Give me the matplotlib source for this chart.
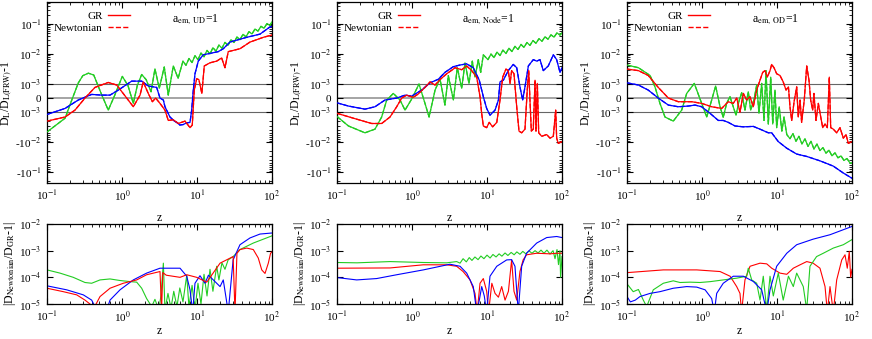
import numpy as np
import matplotlib.pyplot as plt
from matplotlib.lines import Line2D
from matplotlib.ticker import FixedLocator, LogLocator, NullFormatter

# --- Top row: D_L/D_L(FRW) - 1 ---
ud_green_z = [0.1, 0.174, 0.214, 0.261, 0.3, 0.356, 0.42, 0.53, 0.656, 0.8, 1.01, 1.2, 1.415, 1.6, 1.83, 2.1, 2.44,
              2.75, 3.14, 3.66, 4.14, 4.83, 5.6,
              6.5, 7.13, 7.82, 8.58, 9.4, 10.3, 11.3, 12.4, 13.6, 14.9, 16.3, 17.9, 19.6, 21.5, 23.6, 25.9, 28.4,
              31.1, 34.1, 37.4, 41.0, 45.0, 49.3, 54.1, 59.3, 65.0, 71.3, 78.2, 85.7, 94.0, 100]
ud_green_v = [-4.6e-3, -1.6e-3, -0.14e-3, 1.08e-3, 1.9e-3, 2.3e-3, 2.0e-3, 0.3e-3, -0.86e-3, 0.2e-3, 1.8e-3,
              0.9e-3, -0.38e-3, 0.9e-3, 2.08e-3, 1.4e-3, 0.45e-3,
              3.2e-3, 0.7e-3, 3.7e-3, 0.21e-3, 4.0e-3, 1.55e-3,
              5.8e-3, 4.2e-3, 7.1e-3, 5.2e-3, 8.8e-3, 6.5e-3, 1.08e-2, 8.1e-3, 1.32e-2, 1.01e-2, 1.62e-2, 1.25e-2,
              1.99e-2, 1.56e-2, 2.44e-2, 1.94e-2, 3.0e-2, 2.42e-2, 3.68e-2, 3.0e-2, 4.52e-2, 3.74e-2, 5.55e-2,
              4.66e-2, 6.81e-2, 5.79e-2, 8.36e-2, 7.21e-2, 0.103, 8.97e-2, 0.118]
ud_blue_z = [0.1, 0.174, 0.261, 0.394, 0.536, 0.692, 0.893, 1.346, 1.83, 2.24, 2.9, 3.21, 3.56, 3.74, 4.36, 5.0,
             5.36, 5.9, 6.56, 7.2, 8.07, 8.49, 8.93, 9.4, 10.4, 12.1, 19.2, 22.4, 27.5, 46.0, 69.2, 94.0, 100]
ud_blue_v = [-1.2e-3, -0.74e-3, -0.14e-3, 0.26e-3, 0.21e-3, 0.21e-3, 0.57e-3, 1.25e-3, 1.25e-3, 0.86e-3, 0.76e-3,
             0.0, -0.14e-3, -0.62e-3, -1.46e-3, -2.0e-3, -2.2e-3, -2.7e-3, -2.6e-3, -2.3e-3, -2.2e-3, -0.86e-3,
             0.57e-3, 2.2e-3, 5.8e-3, 9.4e-3, 1.2e-2, 1.5e-2, 2.5e-2, 3.6e-2, 4.6e-2, 8.0e-2, 8.3e-2]
ud_red_z = [0.1, 0.174, 0.236, 0.321, 0.436, 0.656, 0.85, 1.156, 1.415, 1.74, 1.92, 2.24, 2.54, 2.81, 3.21, 3.74,
            4.14, 4.83, 5.63, 6.92, 8.07, 8.65, 9.2, 9.9, 10.6, 11.6, 12.5, 14.9, 18.3, 21.3, 23.6, 26.1, 37.4,
            50.9, 76.6, 100]
ud_red_v = [-2.0e-3, -1.46e-3, -0.86e-3, 0.0, 0.76e-3, 1.13e-3, 0.93e-3, 0.0, -0.62e-3, 0.21e-3, 1.18e-3, 0.33e-3,
            -0.26e-3, 0.0, -0.38e-3, -0.86e-3, -1.9e-3, -1.8e-3, -2.4e-3, -2.0e-3, -3.3e-3, -2.7e-3, 0.57e-3,
            1.5e-3, 1.4e-3, 0.33e-3, 4.0e-3, 5.1e-3, 5.8e-3, 7.4e-3, 3.5e-3, 1.2e-2, 1.5e-2, 2.5e-2, 3.6e-2, 4.3e-2]

node_green_z = [0.1, 0.142, 0.236, 0.321, 0.394, 0.46, 0.564, 0.692, 0.807, 0.99, 1.24, 1.49, 1.69, 2.03, 2.36,
                2.75, 3.05, 3.56, 4.02, 4.6, 5.09, 5.75, 6.37, 6.92, 7.66, 8.24, 8.93,
                10.3, 11.3, 12.4, 13.6, 14.9, 16.3, 17.9, 19.6, 21.5, 23.6, 25.9, 28.4, 31.1, 34.1, 37.4, 41.0,
                45.0, 49.3, 54.1, 59.3, 65.0, 71.3, 78.2, 85.7, 94.0, 100]
node_green_v = [-1.4e-3, -2.9e-3, -4.9e-3, -3.7e-3, -1.46e-3, -0.14e-3, 0.33e-3, -0.14e-3, -0.86e-3, -0.07e-3,
                1.0e-3, -0.38e-3, -1.46e-3, 0.57e-3, 1.5e-3, -0.5e-3, 1.9e-3, -0.14e-3, 3.5e-3, 0.7e-3, 5.1e-3,
                1.05e-3, 5.8e-3, 1.7e-3, 6.5e-3, 2.45e-3, 9.4e-3,
                6.5e-3, 1.0e-2, 7.6e-3, 1.16e-2, 8.9e-3, 1.35e-2, 1.04e-2, 1.56e-2, 1.21e-2, 1.8e-2, 1.42e-2,
                2.09e-2, 1.66e-2, 2.42e-2, 1.94e-2, 2.81e-2, 2.27e-2, 3.24e-2, 2.66e-2, 3.76e-2, 3.11e-2, 4.36e-2,
                3.64e-2, 5.05e-2, 4.26e-2, 5.1e-2]
node_blue_z = [0.1, 0.142, 0.236, 0.321, 0.436, 0.625, 0.807, 0.99, 1.346, 1.74, 2.24, 2.75, 3.56, 4.36, 5.36,
               6.56, 7.89, 8.93, 9.9, 10.96, 12.8, 14.2, 14.9, 16.5, 19.2, 22.4, 24.9, 27.5, 29.9, 32.1, 35.6,
               41.4, 46.0, 50.9, 56.3, 65.6, 76.6, 84.9, 94.0, 100]
node_blue_v = [-0.34e-3, -0.57e-3, -0.79e-3, -0.62e-3, -0.14e-3, 0.0, 0.21e-3, 0.14e-3, 0.57e-3, 1.1e-3, 1.44e-3,
               2.45e-3, 3.8e-3, 4.3e-3, 4.7e-3, 3.5e-3, 1.34e-3, 0.1e-3, -0.74e-3, -1.27e-3, -0.86e-3, -0.14e-3,
               1.18e-3, 1.34e-3, 2.8e-3, 4.5e-3, 3.5e-3, 0.8e-3, -0.14e-3, 0.8e-3, 4.0e-3, 6.5e-3, 5.8e-3,
               6.5e-3, 2.8e-3, 4.0e-3, 9.4e-3, 6.5e-3, 2.45e-3, 3.5e-3]
node_red_z = [0.1, 0.174, 0.29, 0.394, 0.509, 0.625, 0.729, 0.85, 1.04, 1.21, 1.49, 1.74, 2.03, 2.36, 2.9, 3.56,
              3.74, 4.6, 5.36, 6.25, 7.29, 8.07, 8.49, 8.93, 9.9, 10.7, 11.9, 13.5, 14.9, 16.2, 17.9, 19.2, 20.3,
              21.3, 22.9, 24.9, 26.7, 29.0, 32.1, 34.4, 36.0, 37.4, 39.0, 41.4, 43.7, 45.0, 46.9, 48.9, 53.6,
              62.5, 69.2, 76.6, 82.4, 84.9, 89.3, 100]
node_red_v = [-1.1e-3, -1.66e-3, -2.4e-3, -2.4e-3, -1.46e-3, -0.62e-3, 0.0, 0.21e-3, 0.05e-3, 0.29e-3, 0.76e-3,
              1.18e-3, 0.93e-3, 1.4e-3, 2.2e-3, 3.15e-3, 3.5e-3, 3.0e-3, 4.0e-3, 2.8e-3, 1.7e-3, 0.1e-3, -1.1e-3,
              -2.9e-3, -3.3e-3, -2.2e-3, -3.1e-3, -2.2e-3, -0.14e-3, 1.7e-3, 3.15e-3, 2.8e-3, 1.05e-3, 2.8e-3,
              2.2e-3, -0.62e-3, -4.3e-3, -4.9e-3, -3.7e-3, 0.57e-3, 2.8e-3, -0.14e-3, -4.3e-3, -3.7e-3, 1.34e-3,
              -4.3e-3, 1.05e-3, -4.9e-3, -6.4e-3, -5.6e-3, -7.4e-3, -6.4e-3, -0.86e-3, -7.4e-3, -1.1e-2, -9.6e-3]

od_green_z = [0.1, 0.142, 0.203, 0.236, 0.275, 0.321, 0.414, 0.536, 0.625, 0.789, 0.99, 1.156, 1.346, 1.52, 1.74,
              1.92, 2.13, 2.36, 2.61, 2.84, 3.14, 3.38, 3.74, 4.14, 4.46, 4.93, 5.36, 5.75, 6.25, 6.71, 7.13, 7.66,
              8.24, 8.77, 9.4, 9.9, 10.7, 11.6, 12.4, 13.5,
              14.9, 16.3, 17.9, 19.6, 21.5, 23.6, 25.9, 28.4, 31.1, 34.1, 37.4, 41.0, 45.0, 49.3, 54.1, 59.3,
              65.0, 71.3, 78.2, 85.7, 94.0, 100]
od_green_v = [4.3e-3, 3.5e-3, 1.93e-3, 0.8e-3, -0.38e-3, -1.46e-3, -2.0e-3, -0.86e-3, 0.33e-3, 1.05e-3, -0.38e-3,
              -1.46e-3, -0.14e-3, 0.86e-3, -0.62e-3, -1.5e-3, -0.38e-3, 0.1e-3, -0.62e-3, -1.27e-3, -0.14e-3,
              0.38e-3, -0.86e-3, 0.45e-3, -0.86e-3, -0.14e-3, 0.93e-3, -1.1e-3, 1.05e-3, -1.9e-3, 2.8e-3, -2.5e-3,
              1.7e-3, -2.5e-3, 0.57e-3, -3.3e-3, -0.62e-3, -4.3e-3, -1.46e-3, -5.6e-3,
              -7.7e-3, -5.2e-3, -9.4e-3, -6.4e-3, -1.15e-2, -7.8e-3, -1.39e-2, -9.4e-3, -1.7e-2, -1.16e-2,
              -1.91e-2, -1.53e-2, -2.33e-2, -1.86e-2, -2.86e-2, -2.28e-2, -3.33e-2, -2.88e-2, -4.08e-2,
              -3.52e-2, -4.96e-2, -5.0e-2]
od_blue_z = [0.1, 0.142, 0.192, 0.261, 0.356, 0.483, 0.656, 0.807, 0.99, 1.28, 1.65, 1.92, 2.24, 2.75, 3.56, 4.83,
             5.93, 7.66, 8.49, 10.4, 13.5, 18.3, 24.9, 37.4, 56.3, 76.6, 100]
od_blue_v = [1.1e-3, 0.93e-3, 0.57e-3, 0.0, -0.5e-3, -0.62e-3, -0.57e-3, -0.5e-3, -0.62e-3, -1.1e-3, -1.9e-3,
             -1.9e-3, -2.2e-3, -2.9e-3, -3.1e-3, -3.0e-3, -3.7e-3, -4.9e-3, -4.9e-3, -9.6e-3, -1.6e-2, -2.5e-2,
             -3.0e-2, -4.2e-2, -6.3e-2, -0.107, -0.16]
od_red_z = [0.1, 0.142, 0.192, 0.261, 0.356, 0.483, 0.729, 0.99, 1.346, 1.83, 2.24, 2.61, 2.9, 3.21, 3.56, 3.94,
            4.36, 4.83, 5.36, 5.93, 6.45, 6.92, 7.43, 8.07, 8.49, 9.12, 9.9, 10.96, 12.1, 13.2, 14.2, 14.9, 15.7,
            16.9, 18.3, 19.2, 20.3, 21.3, 23.1, 24.9, 26.7, 28.1, 29.9, 31.1, 33.1, 35.6, 38.3, 40.7, 43.7, 46.9,
            49.8, 52.0, 56.3, 62.5, 69.2, 76.6, 83.2, 89.3, 100]
od_red_v = [3.15e-3, 2.8e-3, 1.93e-3, 0.76e-3, 0.0, -0.26e-3, -0.26e-3, -0.38e-3, -0.62e-3, -0.74e-3, -0.26e-3,
            -0.38e-3, 0.0, -1.0e-3, 0.33e-3, -0.14e-3, 0.1e-3, -0.62e-3, 0.57e-3, 1.34e-3, 2.45e-3, 2.8e-3, 1.7e-3,
            2.8e-3, 4.5e-3, 3.5e-3, 2.2e-3, 1.93e-3, 1.18e-3, 0.57e-3, 0.8e-3, -0.62e-3, -1.9e-3, -0.26e-3,
            0.8e-3, -1.46e-3, -0.14e-3, -2.2e-3, -0.14e-3, 4.0e-3, 1.34e-3, -0.14e-3, -0.86e-3, 0.33e-3, -1.9e-3,
            -0.38e-3, -1.46e-3, -3.3e-3, -2.5e-3, -3.3e-3, 1.7e-3, -3.3e-3, -3.7e-3, -4.9e-3, -3.3e-3, -7.4e-3,
            -5.6e-3, -1.1e-2, -9.6e-3]

# --- Bottom row: |D_Newtonian/D_GR - 1| ---
b_ud_green_z = [0.1, 0.149, 0.224, 0.321, 0.394, 0.509, 0.692, 0.941, 1.29, 1.57, 1.83, 2.13, 2.49, 2.75, 3.1, 3.3,
                3.56, 3.74, 4.1, 4.5, 4.9, 5.4, 5.9, 6.5, 7.3, 7.8, 8.6, 9.4, 10.3, 11.3, 12.4, 13.6, 14.9, 16.3,
                18.3, 19.6, 21.5, 23.6, 26.0, 30.3, 37.4, 56.3, 100]
b_ud_green_v = [1.9e-4, 1.44e-4, 1.0e-4, 6.4e-5, 6.0e-5, 8.0e-5, 8.7e-5, 7.6e-5, 6.9e-5, 6.6e-5, 3.9e-5, 1.6e-5,
                8e-6, 1.5e-5, 6e-6, 2.0e-5, 3.4e-4, 6e-6, 2.5e-5, 7e-6, 3e-5, 8e-6, 4e-5, 1.2e-5, 1.2e-4, 8e-6,
                5e-5, 6e-6, 6e-5, 1e-5, 1.3e-4, 2e-5, 2e-4, 3e-5, 2.6e-4, 8e-5, 3.5e-4, 2e-4, 4.5e-4, 6e-4,
                1.1e-3, 1.93e-3, 3.6e-3]
b_ud_blue_z = [0.1, 0.183, 0.305, 0.394, 0.46, 0.509, 0.625, 0.692, 0.941, 1.415, 2.13, 3.21, 5.94, 7.3, 8.07,
               8.77, 9.4, 10.96, 12.8, 14.2, 16.5, 20.3, 22.4, 26.1, 30.3, 37.4, 50.9, 69.2, 100]
b_ud_blue_v = [4.8e-5, 3.4e-5, 2.2e-5, 1.4e-5, 6e-6, 4e-6, 6e-6, 1.4e-5, 3.4e-5, 8e-5, 1.44e-4, 2.2e-4, 2.2e-4,
               1.1e-4, 3.4e-5, 5e-6, 6e-5, 1.15e-4, 6e-5, 1.2e-4, 8e-5, 4.5e-5, 8e-5, 5e-6, 4.5e-4, 1.67e-3,
               3e-3, 4.2e-3, 4.6e-3]
b_ud_red_z = [0.1, 0.165, 0.249, 0.321, 0.374, 0.41, 0.509, 0.692, 1.04, 1.57, 2.13, 3.21, 3.37, 3.5, 3.9, 5.94,
              7.3, 9.9, 13.5, 20.3, 30.3, 32.1, 34.1, 37.4, 46.0, 56.3, 65.6, 73.0, 80.7, 89.3, 95.7, 100]
b_ud_red_v = [3.9e-5, 2.9e-5, 2.2e-5, 1.4e-5, 1e-5, 6e-6, 1.9e-5, 3.9e-5, 6e-5, 8e-5, 1.25e-4, 1.65e-4, 6e-6,
              1.5e-4, 1.2e-4, 1e-4, 1.25e-4, 1e-4, 6.6e-5, 3.4e-4, 6e-4, 5e-6, 8e-4, 1.1e-3, 1.25e-3, 1.1e-3,
              5.3e-4, 1.9e-4, 1.4e-4, 3.4e-4, 8e-4, 9e-4]

b_node_green_z = [0.1, 0.185, 0.509, 1.415, 2.9, 3.94, 4.37, 4.8, 5.3, 5.8, 6.3, 6.9, 7.6, 8.3, 9.1, 10.0, 11.0,
                  12.0, 13.2, 14.5, 15.8, 17.4, 19.0, 21.0, 23.0, 25.0, 27.5, 30.0, 33.0, 36.3, 39.8, 43.7, 48.0,
                  52.5, 57.5, 63.0, 69.2, 76.0, 80.7, 85.8, 89.8, 94.0, 95.7, 100]
b_node_green_v = [3.6e-4, 3.5e-4, 3.9e-4, 3.6e-4, 3.5e-4, 3.9e-4, 3.4e-4, 5e-4, 3.8e-4, 5.5e-4, 4.3e-4, 5.8e-4,
                  4.6e-4, 6.3e-4, 5e-4, 6.8e-4, 5.3e-4, 7.2e-4, 5.8e-4, 7.6e-4, 6.2e-4, 8.2e-4, 6.6e-4, 8.6e-4,
                  7e-4, 9e-4, 7.3e-4, 9.4e-4, 7.6e-4, 9.8e-4, 8e-4, 1e-3, 8.2e-4, 1.05e-3, 8e-4, 1.05e-3, 7.5e-4,
                  1.0e-3, 5e-4, 1.1e-3, 3e-4, 1.0e-3, 1e-4, 6e-4]
b_node_red_z = [0.1, 0.509, 1.415, 2.9, 3.94, 4.8, 5.94, 6.92, 7.4, 8.07, 8.93, 9.9, 10.5, 11.6, 12.8, 14.2, 15.7,
                17.4, 19.3, 21.3, 22.9, 24.9, 27.5, 30.3, 33.7, 46.0, 69.2, 85.0, 100]
b_node_red_v = [2.2e-4, 2.25e-4, 2.95e-4, 2.95e-4, 2.6e-4, 1.65e-4, 8e-5, 2.5e-5, 5e-6, 6e-5, 9e-5, 3e-5, 5e-6,
                6e-5, 2.5e-5, 1.8e-5, 4.5e-5, 1.4e-5, 3e-5, 4.5e-4, 3e-5, 1.4e-5, 1.65e-4, 4.5e-4, 7e-4, 8e-4,
                7.6e-4, 8e-4, 8e-4]
b_node_blue_z = [0.1, 0.183, 0.338, 0.625, 1.415, 3.21, 4.37, 5.36, 6.56, 7.3, 7.9, 8.5, 9.2, 9.9, 10.96, 13.5,
                 18.3, 21.3, 23.6, 26.1, 29.0, 33.7, 46.0, 62.5, 85.0, 100]
b_node_blue_v = [9.8e-5, 8e-5, 9e-5, 1.25e-4, 1.9e-4, 3.1e-4, 2.6e-4, 1.44e-4, 4.5e-5, 5e-6, 1.4e-5, 4.5e-5, 2e-5,
                 5e-6, 1.1e-4, 2.6e-4, 4.5e-4, 4.6e-4, 2.6e-4, 5e-6, 2.6e-4, 8e-4, 1.93e-3, 3.1e-3, 3.4e-3, 3.1e-3]

b_od_red_z = [0.1, 0.305, 0.85, 1.74, 2.37, 2.9, 3.21, 3.37, 3.74, 4.37, 5.94, 7.3, 8.5, 10.96, 13.5, 16.5, 20.3,
              24.9, 30.3, 37.4, 43.7, 46.9, 50.9, 56.3, 62.5, 73.0, 80.7, 86.5, 92.0, 96.0, 100]
b_od_red_v = [1.5e-4, 1.9e-4, 1.9e-4, 1.65e-4, 1.1e-4, 4.5e-5, 2.5e-5, 5e-6, 8e-5, 2.6e-4, 3.4e-4, 3.2e-4, 2.2e-4,
              1.44e-4, 1.3e-4, 2.2e-4, 2.95e-4, 3.9e-4, 3.4e-4, 2.2e-4, 4.5e-5, 5e-6, 4.5e-5, 5e-6, 8e-5, 4.5e-4,
              7e-4, 2.2e-4, 9.4e-4, 1e-4, 2e-4]
b_od_green_z = [0.1, 0.121, 0.142, 0.165, 0.183, 0.224, 0.305, 0.414, 0.509, 0.692, 0.941, 1.29, 1.92, 2.9, 3.94,
                4.14, 4.6, 5.36, 5.94, 6.56, 7.3, 8.07, 8.93, 10.4, 12.1, 14.2, 16.5, 18.3, 22.4, 24.9, 27.5, 33.7,
                41.4, 56.3, 76.6, 100]
b_od_green_v = [5.7e-5, 2.9e-5, 3.5e-5, 1.4e-5, 8e-6, 3.4e-5, 6e-5, 7.4e-5, 6.4e-5, 6.6e-5, 6.4e-5, 6.9e-5, 8e-5,
                9.3e-5, 1.1e-4, 2.2e-4, 8e-5, 6e-5, 1.4e-5, 1.1e-4, 6e-6, 1.1e-4, 2e-5, 1.44e-4, 1.4e-5, 1.1e-4,
                4.5e-5, 1.44e-4, 4.5e-5, 6e-6, 2.6e-4, 6e-4, 8e-4, 1.25e-3, 1.67e-3, 2.6e-3]
b_od_blue_z = [0.1, 0.111, 0.129, 0.149, 0.203, 0.275, 0.414, 0.625, 0.85, 1.1, 1.346, 1.46, 1.57, 1.92, 2.61,
               3.56, 4.83, 6.25, 7.3, 8.07, 9.9, 13.5, 18.3, 30.3, 50.9, 100]
b_od_blue_v = [1.9e-5, 1.2e-5, 1.4e-5, 1.9e-5, 2.5e-5, 2.9e-5, 3.9e-5, 4.5e-5, 4.3e-5, 3.4e-5, 1.6e-5, 5e-6,
               2.5e-5, 6e-5, 1.1e-4, 1.1e-4, 7e-5, 3.4e-5, 5e-6, 3.4e-5, 2.6e-4, 8e-4, 1.67e-3, 2.7e-3, 3.96e-3,
               8.1e-3]

panel_labels = [r'a$_{\mathrm{em,\ UD}}$=1', r'a$_{\mathrm{em,\ Node}}$=1', r'a$_{\mathrm{em,\ OD}}$=1']
sym_ticks = [0.1, 0.01, 0.001, 0.0, -0.001, -0.01, -0.1]
sym_labels = ['10$^{-1}$', '10$^{-2}$', '10$^{-3}$', '0', '10$^{-3}$', '-10$^{-2}$', '-10$^{-1}$']
x_ticks = [0.1, 1, 10, 100]
x_labels = ['10$^{-1}$', '10$^{0}$', '10$^{1}$', '10$^{2}$']
log_ticks = [1e-5, 1e-4, 1e-3, 1e-2]
log_labels = ['10$^{-5}$', '10$^{-4}$', '10$^{-3}$', '10$^{-2}$']

# --- Style ---
plt.rcParams['font.family'] = ['Liberation Serif', 'DejaVu Serif']
plt.rcParams['mathtext.fontset'] = 'stix'
plt.rcParams['font.size'] = 8

RED, GREEN, BLUE = '#ff0000', '#22cc22', '#0000ff'
YTOP, YBOT = 0.54, -0.23

top_sets = [
    [(ud_green_z, ud_green_v, GREEN), (ud_blue_z, ud_blue_v, BLUE), (ud_red_z, ud_red_v, RED)],
    [(node_green_z, node_green_v, GREEN), (node_blue_z, node_blue_v, BLUE), (node_red_z, node_red_v, RED)],
    [(od_green_z, od_green_v, GREEN), (od_blue_z, od_blue_v, BLUE), (od_red_z, od_red_v, RED)],
]
bottom_sets = [
    [(b_ud_green_z, b_ud_green_v, GREEN), (b_ud_blue_z, b_ud_blue_v, BLUE), (b_ud_red_z, b_ud_red_v, RED)],
    [(b_node_green_z, b_node_green_v, GREEN), (b_node_red_z, b_node_red_v, RED), (b_node_blue_z, b_node_blue_v, BLUE)],
    [(b_od_red_z, b_od_red_v, RED), (b_od_green_z, b_od_green_v, GREEN), (b_od_blue_z, b_od_blue_v, BLUE)],
]

sym_minor = []
for d in (1e-3, 1e-2, 1e-1):
    for k in range(2, 10):
        if k * d < YTOP:
            sym_minor.append(k * d)
        if k * d < -YBOT:
            sym_minor.append(-k * d)

fig = plt.figure(figsize=(8.72, 3.39), dpi=100)
lefts = [47 / 872, 337 / 872, 627 / 872]
width = 225 / 872

for i, left in enumerate(lefts):
    # --- top panel ---
    ax = fig.add_axes([left, 1 - 183 / 339, width, 181 / 339])
    ax.set_xscale('log')
    ax.set_yscale('symlog', linthresh=1e-3, linscale=0.42)
    for yv, c, lw in [(1e-3, '0.4', 0.8), (0.0, '0.55', 1.1), (-1e-3, '0.4', 0.8)]:
        ax.axhline(yv, color=c, lw=lw, zorder=1)
    for z, v, c in top_sets[i]:
        ax.plot(z, v, color=c, lw=0.9, ls='--', zorder=2)
        ax.plot(z, v, color=c, lw=0.9, zorder=3)
    ax.set_xlim(0.1, 100)
    ax.set_ylim(YBOT, YTOP)
    ax.yaxis.set_major_locator(FixedLocator(sym_ticks))
    ax.set_yticklabels(sym_labels)
    ax.yaxis.set_minor_locator(FixedLocator(sym_minor))
    ax.yaxis.set_minor_formatter(NullFormatter())
    ax.set_ylabel(r'D$_{\mathrm{L}}$/D$_{\mathrm{L(FRW)}}$-1', fontsize=8.5, labelpad=1)
    ax.set_xlabel('z', fontsize=8.5, labelpad=6)
    ax.text(0.555, 0.9, panel_labels[i], transform=ax.transAxes, fontsize=8.5, va='center')
    handles = [Line2D([], [], color=RED, lw=1.0), Line2D([], [], color=RED, lw=1.0, ls='--')]
    ax.legend(handles, ['GR', 'Newtonian'], loc='upper right', bbox_to_anchor=(0.395, 0.985), frameon=False,
              markerfirst=False, handlelength=2.0, handletextpad=0.45, labelspacing=0.25, fontsize=8,
              borderpad=0.35, borderaxespad=0.2)

    # --- bottom panel ---
    bx = fig.add_axes([left, 1 - 304 / 339, width, 80 / 339])
    bx.set_xscale('log')
    bx.set_yscale('log')
    for z, v, c in bottom_sets[i]:
        bx.plot(z, v, color=c, lw=0.8)
    bx.set_xlim(0.1, 100)
    bx.set_ylim(1e-5, 1e-2)
    bx.yaxis.set_major_locator(FixedLocator(log_ticks))
    bx.set_yticklabels(log_labels)
    bx.yaxis.set_minor_locator(LogLocator(base=10, subs=np.arange(2, 10)))
    bx.yaxis.set_minor_formatter(NullFormatter())
    bx.set_ylabel(r'|D$_{\mathrm{Newtonian}}$/D$_{\mathrm{GR}}$-1|', fontsize=8.5, labelpad=1)
    bx.set_xlabel('z', fontsize=8.5, labelpad=0.5)

    for a in (ax, bx):
        a.xaxis.set_major_locator(FixedLocator(x_ticks))
        a.set_xticklabels(x_labels)
        a.xaxis.set_minor_locator(LogLocator(base=10, subs=np.arange(2, 10)))
        a.xaxis.set_minor_formatter(NullFormatter())
        a.tick_params(which='both', direction='in', top=True, right=True, labelsize=8)
        a.tick_params(which='major', length=4, width=0.8, pad=4)
        a.tick_params(which='minor', length=2, width=0.6)
        for s in a.spines.values():
            s.set_linewidth(0.9)

fig.savefig('out.png', dpi=100)
